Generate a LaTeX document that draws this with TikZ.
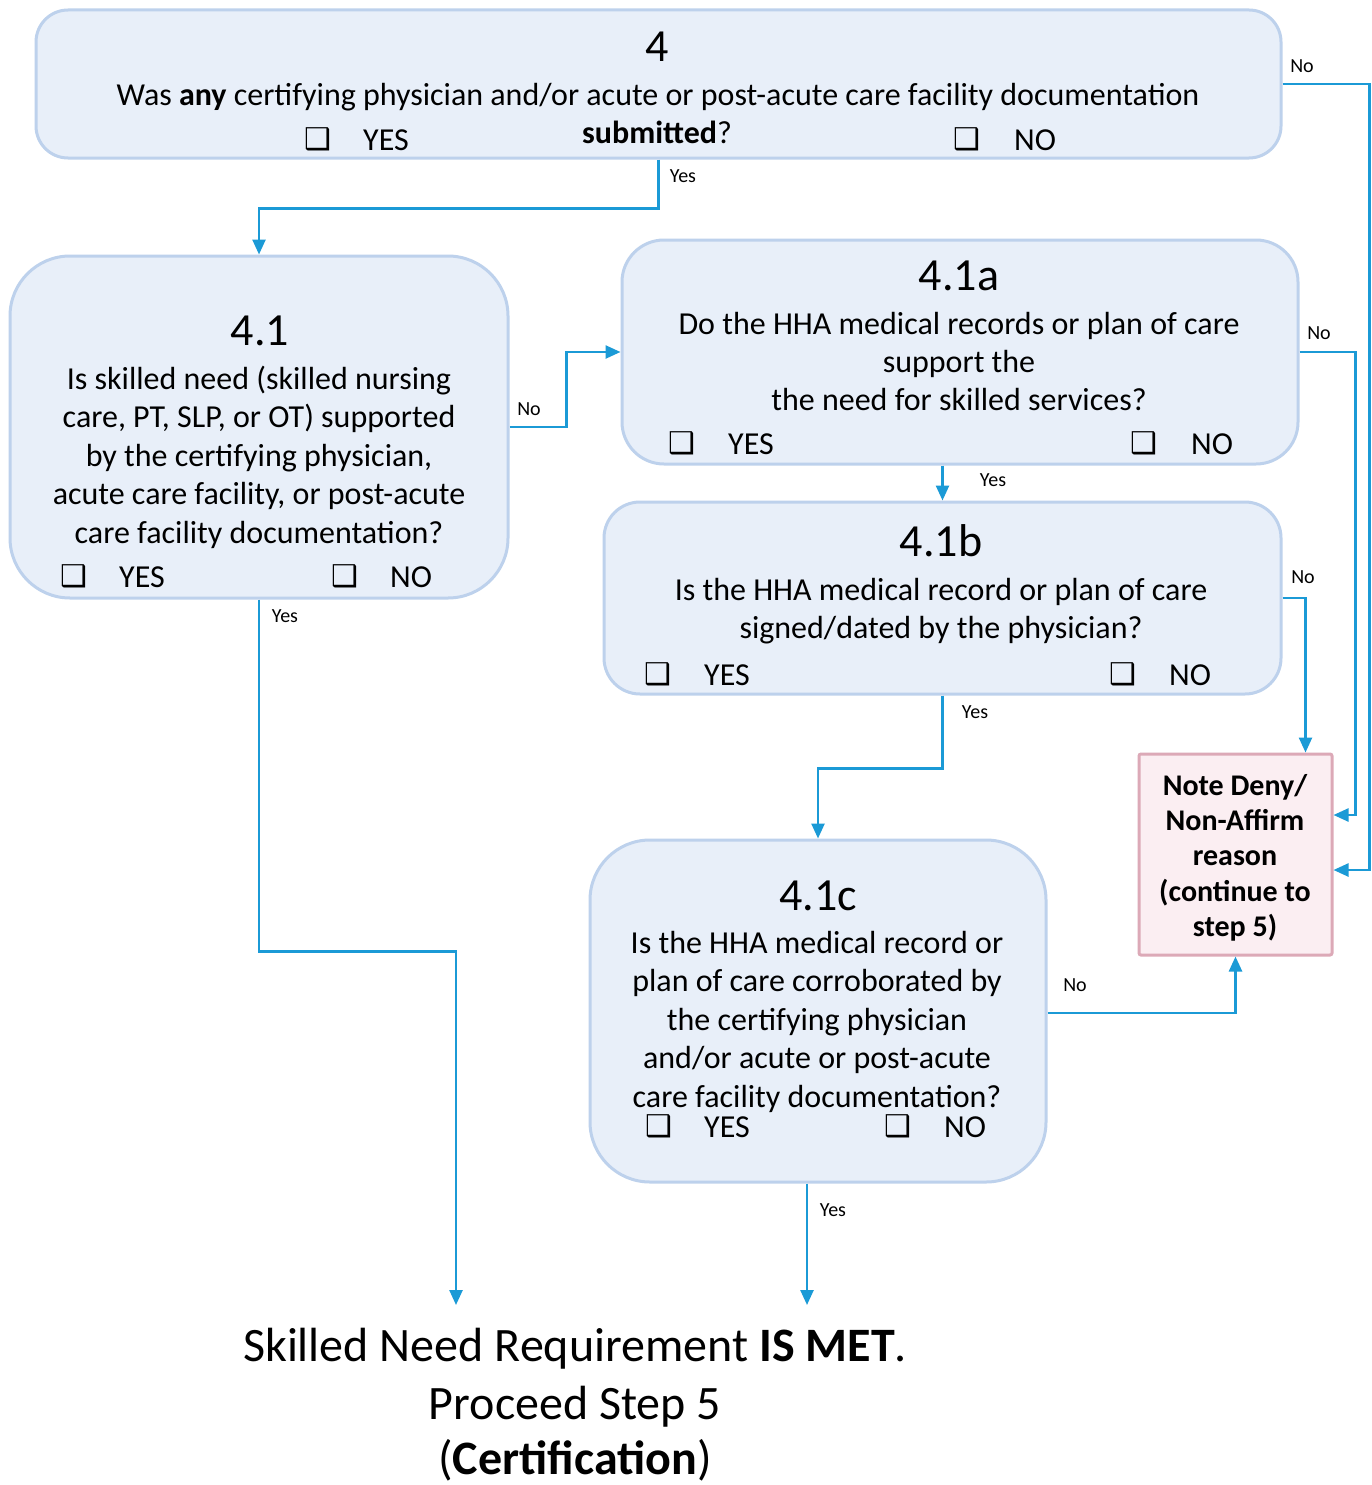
\documentclass[tikz,border=0pt]{standalone}
\usepackage{fontspec}
\setmainfont{Carlito}
\newfontfamily\symf{DejaVu Sans}
\usetikzlibrary{arrows.meta,calc}
\definecolor{boxfill}{HTML}{E8EFF9}
\definecolor{boxline}{HTML}{BDD1EC}
\definecolor{arrowc}{HTML}{1B9AD6}
\definecolor{pinkfill}{HTML}{FBEEF2}
\definecolor{pinkline}{HTML}{DCA9B7}
\newcommand{\cbx}{{\symf\fontsize{30}{30}\selectfont ❑}}
\tikzset{
  qbox/.style={draw=boxline, fill=boxfill, line width=3pt, inner sep=0pt},
  notebox/.style={draw=pinkline, fill=pinkfill, line width=3pt, inner sep=0pt, rounded corners=2pt},
  ttl/.style={font=\fontsize{46}{46}\selectfont, anchor=mid, inner sep=0pt, yshift=-12pt},
  body/.style={font=\fontsize{32}{32}\selectfont, anchor=mid, inner sep=0pt, yshift=-8pt},
  chk/.style={anchor=mid, inner sep=0pt, yshift=-8pt},
  notet/.style={font=\fontsize{30}{30}\selectfont\bfseries, anchor=mid, inner sep=0pt, yshift=-8pt},
  lbl/.style={font=\fontsize{20}{20}\selectfont, anchor=mid, inner sep=0pt, yshift=-3pt},
  final/.style={font=\fontsize{48}{48}\selectfont, anchor=mid, inner sep=0pt, yshift=-12pt},
  conn/.style={draw=arrowc, line width=2.5pt},
  arr/.style={conn, -{Triangle[length=15pt,width=13pt]}},
}
\begin{document}
\begin{tikzpicture}[x=1pt,y=-1pt]
\useasboundingbox (0,0) rectangle (1371,1485);
\fill[white] (0,0) rectangle (1371,1485);

% boxes
\node[qbox, rounded corners=32pt, minimum width=1245pt, minimum height=148pt] (q4) at (658.5,84) {};
\node[qbox, rounded corners=60pt, minimum width=498pt, minimum height=342pt] (q41) at (259,427) {};
\node[qbox, rounded corners=42pt, minimum width=676pt, minimum height=224pt] (q41a) at (960,352) {};
\node[qbox, rounded corners=36pt, minimum width=677pt, minimum height=192pt] (q41b) at (942.5,598) {};
\node[qbox, rounded corners=60pt, minimum width=456pt, minimum height=342pt] (q41c) at (818,1011) {};
\node[notebox, minimum width=193pt, minimum height=201pt] (note) at (1235.5,854.5) {};

% box 4 text
\node[ttl] (t4) at (657,47) {4};
\node[body] (t4a) at (658,95) {Was \textbf{any} certifying physician and/or acute or post-acute care facility documentation};
\node[body] (t4b) at (657,133) {\textbf{submitted}?};
\node[chk] (c4y) at (318,139) {\cbx};
\node[body] (y4) at (386,140) {YES};
\node[chk] (c4n) at (967,139) {\cbx};
\node[body] (n4) at (1035,140) {NO};

% box 4.1 text
\node[ttl] (t41) at (260,331) {4.1};
\foreach \txt [count=\i] in {Is skilled need (skilled nursing, {care, PT, SLP, or OT) supported}, {by the certifying physician,}, {acute care facility, or post-acute}, care facility documentation?}
  \node[body] (b41-\i) at (259,{379+38.5*(\i-1)}) {\txt};
\node[chk] (c41y) at (74,576) {\cbx};
\node[body] (y41) at (142,577) {YES};
\node[chk] (c41n) at (345,576) {\cbx};
\node[body] (n41) at (411,577) {NO};

% box 4.1a text
\node[ttl] (t41a) at (959,276) {4.1a};
\foreach \txt [count=\i] in {Do the HHA medical records or plan of care, support the, the need for skilled services?}
  \node[body] (b41a-\i) at (959,{324+38.3*(\i-1)}) {\txt};
\node[chk] (c41ay) at (682,443) {\cbx};
\node[body] (y41a) at (751,444) {YES};
\node[chk] (c41an) at (1144,443) {\cbx};
\node[body] (n41a) at (1212,444) {NO};

% box 4.1b text
\node[ttl] (t41b) at (941,542) {4.1b};
\foreach \txt [count=\i] in {Is the HHA medical record or plan of care, signed/dated by the physician?}
  \node[body] (b41b-\i) at (941,{590+38*(\i-1)}) {\txt};
\node[chk] (c41by) at (658,674) {\cbx};
\node[body] (y41b) at (727,675) {YES};
\node[chk] (c41bn) at (1123,674) {\cbx};
\node[body] (n41b) at (1190,675) {NO};

% box 4.1c text
\node[ttl] (t41c) at (818,896) {4.1c};
\foreach \txt [count=\i] in {Is the HHA medical record or, plan of care corroborated by, the certifying physician, and/or acute or post-acute, care facility documentation?}
  \node[body] (b41c-\i) at (817,{943+38.5*(\i-1)}) {\txt};
\node[chk] (c41cy) at (659,1126) {\cbx};
\node[body] (y41c) at (727,1127) {YES};
\node[chk] (c41cn) at (898,1126) {\cbx};
\node[body] (n41c) at (965,1127) {NO};

% note text
\foreach \txt [count=\i] in {{Note Deny/}, {Non-Affirm}, {reason}, {(continue to}, {step 5)}}
  \node[notet] (nt-\i) at (1235,{785+35.3*(\i-1)}) {\txt};

% final text
\node[final] (f1) at (575,1347) {Skilled Need Requirement \textbf{IS MET}.};
\node[final] (f2) at (575,1405) {Proceed Step 5};
\node[final] (f3) at (575,1460) {(\textbf{Certification})};
\coordinate (fa) at (456,1305);
\coordinate (fb) at (807,1305);

% connectors
% 4 yes -> 4.1
\draw[arr] (q4.south) -- ++(0,49) -| (q41.north);
\node[lbl] (l1) at (683,177) {Yes};
% 4 no -> note
\draw[arr] (q4.east) -- ++(87,0) |- ($(note.east)+(0,15.5)$);
\node[lbl] (l2) at (1302,67) {No};
% 4.1a no -> note
\draw[arr] (q41a.east) -- ++(56,0) |- ($(note.east)+(0,-39.5)$);
\node[lbl] (l3) at (1319,334) {No};
% 4.1 no -> 4.1a
\draw[arr] (q41.east) -- ++(57,0) |- (q41a.west);
\node[lbl] (l4) at (529,410) {No};
% 4.1a yes -> 4.1b
\draw[arr] (q41b.north |- q41a.south) -- (q41b.north);
\node[lbl] (l5) at (993,481) {Yes};
% 4.1b no -> note
\draw[arr] (q41b.east) -- ++(23,0) coordinate (kb) -- (kb |- note.north);
\node[lbl] (l6) at (1303,578) {No};
% 4.1b yes -> 4.1c
\draw[arr] (q41b.south) -- ++(0,73) -| (q41c.north);
\node[lbl] (l7) at (975,713) {Yes};
% 4.1 yes -> final
\draw[arr] (q41.south) -- ++(0,352) -| (fa);
\node[lbl] (l8) at (285,617) {Yes};
% 4.1c no -> note
\draw[arr] (q41c.east |- 0,1013) -| (note.south);
\node[lbl] (l9) at (1075,986) {No};
% 4.1c yes -> final
\draw[arr] (fb |- q41c.south) -- (fb);
\node[lbl] (l10) at (833,1211) {Yes};
\end{tikzpicture}
\end{document}
